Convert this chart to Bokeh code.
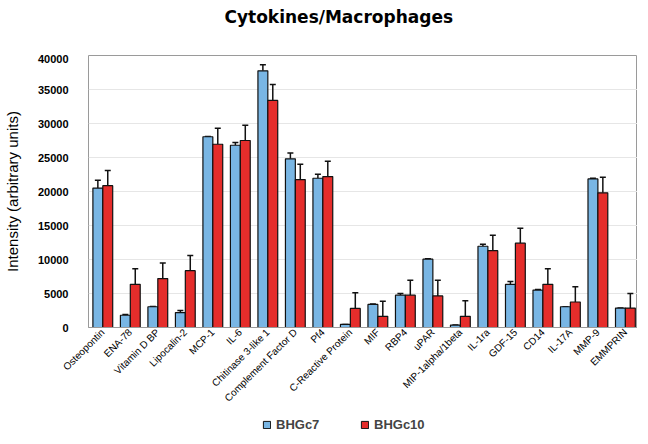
from bokeh.plotting import figure
from bokeh.layouts import column
from bokeh.models import (Range1d, FixedTicker, BasicTickFormatter, Label,
                          ColumnDataSource, Whisker, TeeHead, Legend, LegendItem)
from bokeh.embed import file_html
from bokeh.resources import INLINE
import math

categories = ["Osteopontin", "ENA-78", "Vitamin D BP", "Lipocalin-2", "MCP-1", "IL-6",
              "Chitinase 3-like 1", "Complement Factor D", "Pf4", "C-Reactive Protein",
              "MIF", "RBP4", "uPAR", "MIP-1alpha/1beta", "IL-1ra", "GDF-15", "CD14",
              "IL-17A", "MMP-9", "EMMPRIN"]
bhgc7 = [20500, 1800, 3050, 2200, 28050, 26800, 37750, 24800, 21950, 450,
         3400, 4750, 10050, 350, 11950, 6350, 5500, 3050, 21850, 2850]
bhgc7_err = [1150, 100, 50, 300, 50, 400, 900, 850, 600, 0,
             50, 250, 50, 0, 300, 400, 100, 0, 100, 0]
bhgc10 = [20850, 6350, 7200, 8350, 26950, 27500, 33400, 21750, 22200, 2800,
          1650, 4750, 4650, 1650, 11300, 12400, 6350, 3750, 19800, 2850]
bhgc10_err = [2250, 2300, 2300, 2250, 2350, 2250, 2350, 2250, 2250, 2300,
              2200, 2200, 2300, 2300, 2250, 2200, 2300, 2250, 2300, 2150]
y_ticks = [0, 5000, 10000, 15000, 20000, 25000, 30000, 35000, 40000]
series_names = ["BHGc7", "BHGc10"]
title_text = "Cytokines/Macrophages"

BLUE = "#79b6e4"
RED = "#e52d2b"

n = len(categories)
idx = list(range(n))
x7 = [i - 0.18 for i in idx]
x10 = [i + 0.18 for i in idx]

# title strip
pt = figure(width=632, height=54, output_backend="svg", toolbar_location=None, title=None,
            x_range=Range1d(0, 1), y_range=Range1d(0, 1),
            x_axis_type=None, y_axis_type=None,
            min_border_left=0, min_border_right=0, min_border_top=0, min_border_bottom=0)
pt.outline_line_color = None
pt.xgrid.grid_line_color = None
pt.ygrid.grid_line_color = None
pt.add_layout(Label(x=136, y=38, x_units="screen", y_units="screen", text=title_text,
                    text_font="DejaVu Sans", text_font_size="17px", text_font_style="bold",
                    text_color="#000000", text_baseline="middle", text_align="left"))

# main chart
p = figure(frame_width=549, frame_height=272, output_backend="svg", toolbar_location=None,
           title=None, x_range=Range1d(-0.52, n - 0.56), y_range=Range1d(0, 40000),
           min_border_left=83, min_border_right=0, min_border_top=1, min_border_bottom=0)

s7 = ColumnDataSource(dict(x=x7, top=bhgc7, up=[v + e for v, e in zip(bhgc7, bhgc7_err)]))
s10 = ColumnDataSource(dict(x=x10, top=bhgc10, up=[v + e for v, e in zip(bhgc10, bhgc10_err)]))

for s in (s7, s10):
    w = Whisker(source=s, base="x", lower="top", upper="up", dimension="height",
                line_color="#111111", line_width=1.5,
                upper_head=TeeHead(size=6, line_color="#111111", line_width=1.5),
                lower_head=None)
    p.add_layout(w)

p.vbar(x="x", top="top", width=0.36, source=s7, fill_color=BLUE,
       line_color="#111111", line_width=1.2)
p.vbar(x="x", top="top", width=0.36, source=s10, fill_color=RED,
       line_color="#111111", line_width=1.2)

p.outline_line_color = "#9a9a9a"
p.xgrid.grid_line_color = None
p.ygrid.grid_line_color = "#e6e6e6"

p.yaxis.ticker = FixedTicker(ticks=y_ticks)
p.yaxis.formatter = BasicTickFormatter(use_scientific=False)
p.yaxis.major_label_text_font = "Liberation Sans"
p.yaxis.major_label_text_font_style = "bold"
p.yaxis.major_label_text_font_size = "11px"
p.yaxis.major_label_text_color = "#000000"
p.yaxis.major_tick_line_color = None
p.yaxis.minor_tick_line_color = None
p.yaxis.axis_line_color = None
p.yaxis.major_label_standoff = 14
p.yaxis.axis_label = "Intensity (arbitrary units)"
p.yaxis.axis_label_text_font = "Liberation Sans"
p.yaxis.axis_label_text_font_style = "normal"
p.yaxis.axis_label_text_font_size = "15px"
p.yaxis.axis_label_text_color = "#000000"
p.yaxis.axis_label_standoff = 14

p.xaxis.ticker = FixedTicker(ticks=idx)
p.xaxis.major_label_overrides = {i: c for i, c in enumerate(categories)}
p.xaxis.major_label_orientation = math.pi / 4
p.xaxis.major_label_text_font = "Liberation Sans"
p.xaxis.major_label_text_font_size = "10px"
p.xaxis.major_label_text_color = "#000000"
p.xaxis.major_tick_line_color = None
p.xaxis.minor_tick_line_color = None
p.xaxis.major_tick_out = 0
p.xaxis.major_tick_in = 0
p.xaxis.axis_line_color = "#9a9a9a"
p.xaxis.major_label_standoff = 3

# legend strip below the chart
pl = figure(width=632, height=24, output_backend="svg", toolbar_location=None, title=None,
            x_range=Range1d(0, 1), y_range=Range1d(0, 1),
            x_axis_type=None, y_axis_type=None,
            min_border_left=0, min_border_right=0, min_border_top=0, min_border_bottom=0)
pl.outline_line_color = None
pl.xgrid.grid_line_color = None
pl.ygrid.grid_line_color = None
e7 = pl.vbar(x=[0], top=[0], width=0.1, fill_color=BLUE, line_color="#111111",
             line_width=1, visible=False)
e10 = pl.vbar(x=[0], top=[0], width=0.1, fill_color=RED, line_color="#111111",
              line_width=1, visible=False)

legend = Legend(items=[LegendItem(label=series_names[0], renderers=[e7]),
                       LegendItem(label=series_names[1], renderers=[e10])],
                orientation="horizontal", location=(174, 2),
                label_text_font="Liberation Sans", label_text_font_style="bold",
                label_text_font_size="13px", glyph_width=9, glyph_height=9,
                label_height=16, label_standoff=5, label_width=84, spacing=0,
                inactive_fill_alpha=0, border_line_color=None,
                background_fill_alpha=0, padding=2, margin=0)
pl.add_layout(legend)

layout = column(pt, p, pl, spacing=0)
open("out.html", "w").write(file_html(layout, INLINE))
